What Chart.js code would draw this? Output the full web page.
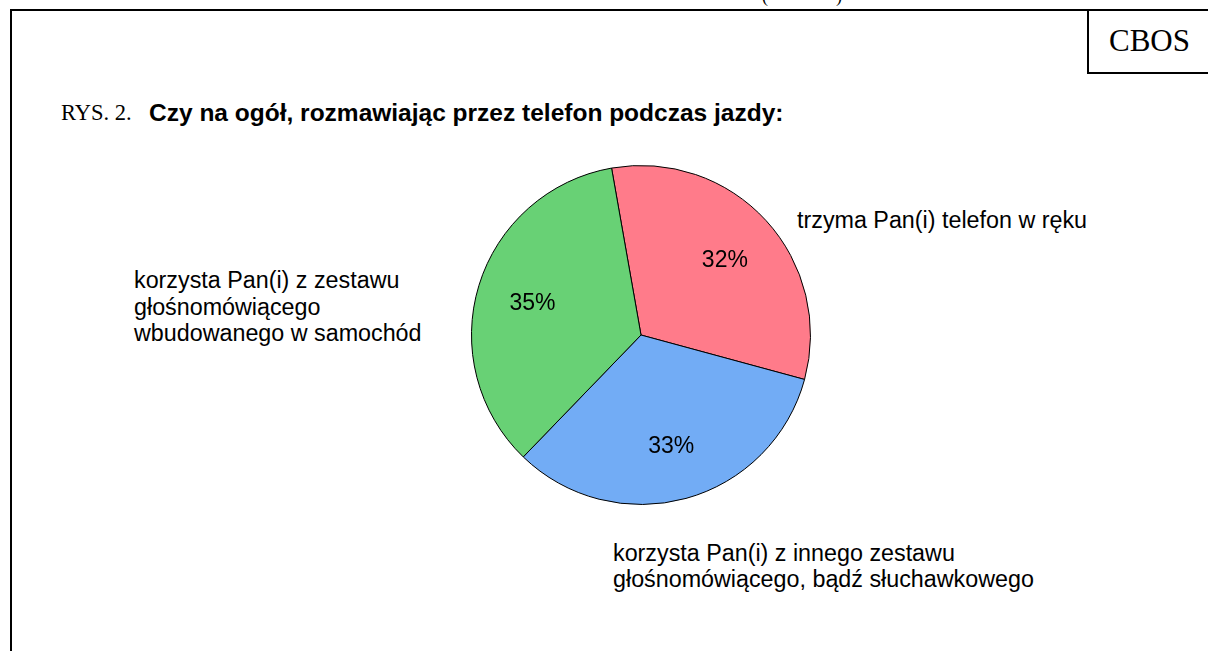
<!DOCTYPE html>
<html>
<head>
<meta charset="utf-8">
<script src="https://cdn.jsdelivr.net/npm/chart.js@4/dist/chart.umd.min.js"></script>
<style>
  html, body { margin: 0; padding: 0; background: #fff; }
  body { width: 1208px; height: 651px; position: relative; overflow: hidden; }
  .line { position: absolute; background: #000; }
  .txt { position: absolute; white-space: nowrap; color: #000; }
  .sans { font-family: "Liberation Sans", Arial, sans-serif; }
  .serif { font-family: "Liberation Serif", "Times New Roman", serif; }
  #pieWrap { position: absolute; left: 471px; top: 165px; width: 340px; height: 340px; }
</style>
</head>
<body>
<div class="txt serif" style="left:762px; top:-14px; font-size:18px;">(</div>
<div class="txt serif" style="left:836px; top:-14px; font-size:18px;">)</div>

<div class="line" style="left:10px; top:9px; width:1198px; height:2px;"></div>
<div class="line" style="left:10px; top:9px; width:2px; height:642px;"></div>
<div class="line" style="left:1087px; top:9px; width:2px; height:65px;"></div>
<div class="line" style="left:1087px; top:72px; width:121px; height:2px;"></div>
<div class="txt serif" id="brand" style="left:1109px; top:23px; font-size:31px;"></div>

<div class="txt serif" id="figNo" style="left:61px; top:100px; font-size:22.5px;"></div>
<div class="txt sans" id="title" style="left:149px; top:99px; font-size:24.5px; font-weight:bold;"></div>

<div class="txt sans" id="lab0" style="left:797px; top:207px; font-size:23.3px; line-height:26px;"></div>
<div class="txt sans" id="lab1" style="left:613px; top:540px; font-size:23.3px; line-height:26px;"></div>
<div class="txt sans" id="lab2" style="left:134px; top:267px; font-size:23.3px; line-height:26.5px;"></div>

<div id="pieWrap"><canvas id="c" width="340" height="340"></canvas></div>

<script>
// ---- data ----
const brandText = "CBOS";
const figureNumber = "RYS. 2.";
const chartTitle = "Czy na ogół, rozmawiając przez telefon podczas jazdy:";
const categories = [
  ["trzyma Pan(i) telefon w ręku"],
  ["korzysta Pan(i) z innego zestawu", "głośnomówiącego, bądź słuchawkowego"],
  ["korzysta Pan(i) z zestawu", "głośnomówiącego", "wbudowanego w samochód"]
];
const values = [32, 33, 35];
const sliceColors = ["#FF7B8A", "#72ACF5", "#68D175"];

// ---- text ----
document.getElementById("brand").textContent = brandText;
document.getElementById("figNo").textContent = figureNumber;
document.getElementById("title").textContent = chartTitle;
categories.forEach((lines, i) => {
  const el = document.getElementById("lab" + i);
  lines.forEach((l, j) => {
    if (j) el.appendChild(document.createElement("br"));
    el.appendChild(document.createTextNode(l));
  });
});

// ---- percentage labels plugin ----
const pctLabels = {
  id: "pctLabels",
  afterDatasetsDraw(chart) {
    const ctx = chart.ctx;
    const meta = chart.getDatasetMeta(0);
    ctx.save();
    ctx.font = '23px "Liberation Sans", Arial, sans-serif';
    ctx.fillStyle = "#000";
    ctx.textAlign = "center";
    ctx.textBaseline = "middle";
    meta.data.forEach((arc, i) => {
      const p = arc.getProps(["x", "y", "startAngle", "endAngle", "outerRadius"], true);
      const mid = (p.startAngle + p.endAngle) / 2;
      const r = p.outerRadius * 0.67;
      ctx.fillText(values[i] + "%", p.x + Math.cos(mid) * r, p.y + Math.sin(mid) * r + 2);
    });
    ctx.restore();
  }
};

new Chart(document.getElementById("c"), {
  type: "pie",
  data: {
    labels: categories.map(l => l.join(" ")),
    datasets: [{
      data: values,
      backgroundColor: sliceColors,
      borderColor: "#000",
      borderWidth: 1
    }]
  },
  options: {
    responsive: false,
    animation: false,
    rotation: -10,
    layout: { padding: 0 },
    plugins: {
      legend: { display: false },
      tooltip: { enabled: false }
    }
  },
  plugins: [pctLabels]
});
</script>
</body>
</html>
